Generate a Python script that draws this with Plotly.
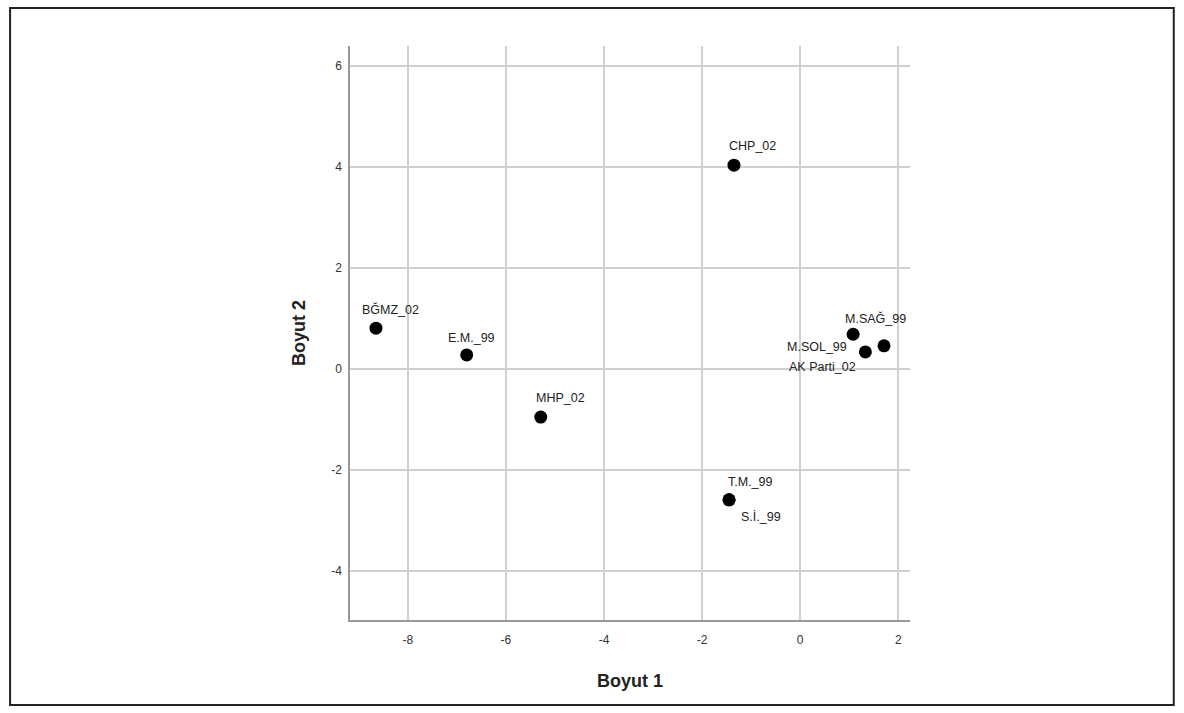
import plotly.graph_objects as go

# Data (MDS coordinates)
labels = ["CHP_02", "BĞMZ_02", "E.M._99", "MHP_02", "T.M._99", "S.İ._99",
          "M.SAĞ_99", "M.SOL_99", "AK Parti_02"]
dim1 = [-1.35, -8.65, -6.80, -5.29, -1.45, -1.45, 1.08, 1.33, 1.71]
dim2 = [4.04, 0.81, 0.28, -0.95, -2.59, -2.59, 0.69, 0.34, 0.46]

x_ticks = [-8, -6, -4, -2, 0, 2]
x_tick_text = ["-8", "-6", "-4", "-2", "0", "2"]
y_ticks = [-4, -2, 0, 2, 4, 6]
y_tick_text = ["-4", "-2", "0", "2", "4", "6"]

# label placement styles (anchor, x shift px, y shift px)
label_style = {
    "CHP_02": ("left", -7, 19),
    "BĞMZ_02": ("left", -16, 19),
    "E.M._99": ("left", -21, 17),
    "MHP_02": ("left", -7, 19),
    "T.M._99": ("left", -3, 18),
    "S.İ._99": ("left", 10, -17),
    "M.SAĞ_99": ("left", -10, 16),
    "M.SOL_99": ("right", -16, 5),
    "AK Parti_02": ("right", -26, -21),
}

fig = go.Figure()
fig.add_trace(go.Scatter(
    x=dim1, y=dim2, mode="markers",
    marker=dict(color="black", size=13),
    hoverinfo="text", text=labels, showlegend=False,
))

for lab, xv, yv in zip(labels, dim1, dim2):
    anc, xs, ys = label_style[lab]
    fig.add_annotation(
        x=xv, y=yv, xref="x", yref="y", text=lab, showarrow=False,
        xanchor=anc, yanchor="middle", xshift=xs, yshift=ys,
        font=dict(family="Liberation Sans, Arial", size=12.5, color="#222"),
    )

# outer border
fig.add_shape(type="rect", xref="paper", yref="paper",
              x0=-0.607, x1=1.471, y0=-0.148, y1=1.066,
              line=dict(color="#222", width=2), layer="above")

fig.update_layout(
    width=1184, height=713,
    margin=dict(l=350, r=274, t=46, b=93),
    plot_bgcolor="white", paper_bgcolor="white",
    font=dict(family="Liberation Sans, Arial", color="#333"),
    xaxis=dict(
        range=[-9.18, 2.24], tickvals=x_ticks, ticktext=x_tick_text, showgrid=True,
        gridcolor="#d0d0d0", gridwidth=1.5, zeroline=False,
        showline=True, linecolor="#999", linewidth=1.5,
        tickfont=dict(size=12, color="#333"),
        ticks="outside", ticklen=8, tickcolor="rgba(0,0,0,0)",
        title=dict(text="<b>Boyut 1</b>", font=dict(size=18, color="#222"), standoff=28),
    ),
    yaxis=dict(
        range=[-4.97, 6.4], tickvals=y_ticks, ticktext=y_tick_text, showgrid=True,
        gridcolor="#d0d0d0", gridwidth=1.5, zeroline=False,
        showline=True, linecolor="#999", linewidth=1.5,
        tickfont=dict(size=12, color="#333"),
        ticks="outside", ticklen=4, tickcolor="rgba(0,0,0,0)",
        title=dict(text="<b>Boyut 2</b>", font=dict(size=18, color="#222"), standoff=21),
    ),
)

fig.write_html("out.html", config={"displayModeBar": False},
               post_script="document.body.style.margin='0';document.body.style.overflow='hidden';")
